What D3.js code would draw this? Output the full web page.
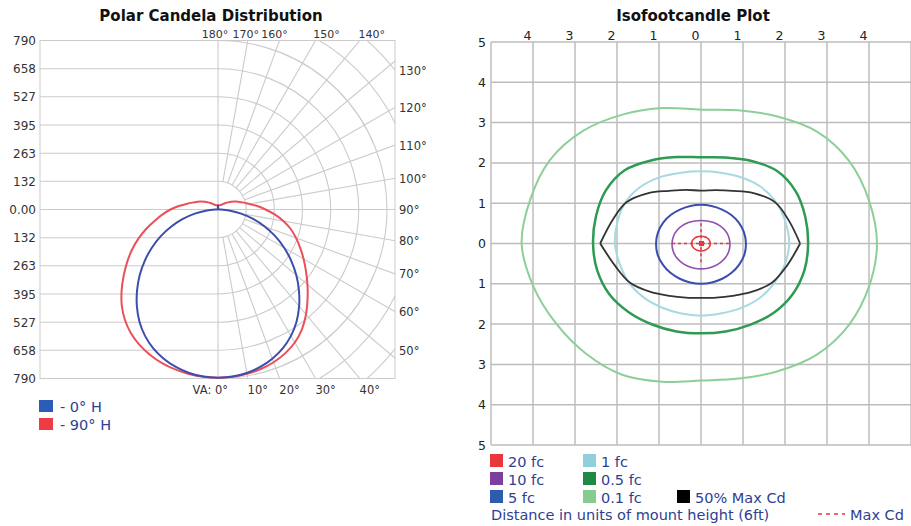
<!DOCTYPE html>
<html>
<head>
<meta charset="utf-8">
<title>Polar Candela Distribution / Isofootcandle Plot</title>
<script src="https://cdnjs.cloudflare.com/ajax/libs/d3/7.8.5/d3.min.js"></script>
<style>
  body { margin: 0; background: #fff; }
  text { font-family: "DejaVu Sans", Verdana, sans-serif; }
</style>
</head>
<body>
<script>
// ---- polar candela data (vertical angle from nadir, candela) ----
const vAngles = [0,5,10,15,20,25,30,35,40,45,50,55,60,65,70,75,80,85,90,
                 95,100,105,110,115,120,125,130,135,140,145,150,155,160,165,170,175,180];
const cd0H   = [786,784,776,762,742,716,682,640,590,535,478,418,357,295,232,170,110,52,12,
                4,3,3,3,3,3,3,3,3,3,3,3,3,3,3,4,8,22];
const cd90H  = [786,785,781,774,764,750,732,708,676,636,588,538,490,443,395,347,300,260,222,
                184,150,124,104,88,72,58,47,38,32,27,24,22,21,20,20,20,20];
const cd270H = [786,785,780,772,760,742,718,684,640,592,546,502,462,424,388,352,310,266,222,
                184,150,124,104,88,72,58,47,38,32,27,24,22,21,20,20,20,20];
const cdTicks = [132,263,395,527,658,790];
const ringLevels = [132,263,395,527,658,790,921,1053];
const rightDeg = [50,60,70,80,90,100,110,120,130];
const topDeg = [140,150,160,170,180];
const bottomDeg = [0,10,20,30,40];

// ---- isofootcandle data (radius in mount heights at each direction) ----
const phi = [0,15,30,45,60,75,90,105,120,135,150,165,180,195,210,225,240,255,270,285,300,315,330,345];
const fc01 = [4.19,4.14,4.08,3.92,3.64,3.42,3.32,3.48,3.70,3.96,4.15,4.21,4.27,4.13,3.98,3.87,3.76,3.55,3.40,3.47,3.66,3.90,4.06,4.14];
const fc05 = [2.55,2.57,2.60,2.55,2.37,2.21,2.14,2.22,2.38,2.57,2.62,2.59,2.57,2.56,2.52,2.42,2.32,2.26,2.23,2.26,2.33,2.44,2.52,2.55];
const fc1  = [2.10,2.08,2.06,2.00,1.90,1.82,1.79,1.82,1.91,2.01,2.07,2.06,2.05,2.00,1.97,1.91,1.84,1.80,1.79,1.80,1.86,1.94,2.00,2.06];
const fc5  = [1.07,1.06,1.04,1.01,0.98,0.965,0.96,0.965,0.98,1.01,1.04,1.06,1.07,1.07,1.05,1.03,1.01,1.00,1.00,1.00,1.01,1.03,1.05,1.07];
const fc10 = [0.69,0.68,0.66,0.63,0.60,0.58,0.57,0.58,0.60,0.63,0.66,0.68,0.69,0.69,0.68,0.66,0.645,0.635,0.63,0.635,0.645,0.66,0.68,0.69];
const fc20 = [0.22,0.22,0.21,0.20,0.19,0.18,0.18,0.18,0.19,0.20,0.21,0.22,0.22,0.22,0.21,0.20,0.19,0.185,0.185,0.185,0.19,0.20,0.21,0.22];
const halfMaxCd = [2.36,2.17,2.04,1.77,1.51,1.37,1.31,1.38,1.51,1.77,2.05,2.19,2.40,2.12,1.95,1.70,1.50,1.39,1.35,1.39,1.50,1.70,1.95,2.12];
const maxCdX = [-0.69, 0.69];
const maxCdY = [-0.5, 0.5];
const gridTicks = [-5,-4,-3,-2,-1,0,1,2,3,4,5];
const topTicks = [-4,-3,-2,-1,0,1,2,3,4];

const W = 911, H = 526;
const svg = d3.select("body").append("svg").attr("width", W).attr("height", H);
const rad = Math.PI / 180;

// ================= Polar Candela Distribution =================
const cx = 218, cy = 209.5, R = 169;
const box = { x0: 40, x1: 395, y0: cy - R, y1: cy + R };
const r = d3.scaleLinear().domain([0, 790]).range([0, R]);
const gridCol = "#cbcbcb";

svg.append("defs").append("clipPath").attr("id", "pclip")
  .append("rect").attr("x", box.x0).attr("y", box.y0)
  .attr("width", box.x1 - box.x0).attr("height", box.y1 - box.y0);

const pg = svg.append("g");
const grid = pg.append("g").attr("clip-path", "url(#pclip)")
  .attr("stroke", gridCol).attr("fill", "none").attr("stroke-width", 1.1);

// left half: horizontal lines
cdTicks.forEach(v => {
  [cy - r(v), cy + r(v)].forEach(y => {
    grid.append("line").attr("x1", box.x0).attr("x2", cx).attr("y1", y).attr("y2", y);
  });
});
grid.append("line").attr("x1", box.x0).attr("x2", box.x1).attr("y1", cy).attr("y2", cy);
grid.append("line").attr("x1", cx).attr("x2", cx).attr("y1", box.y0).attr("y2", box.y1);

// right half: rings
ringLevels.forEach(v => {
  const p = d3.path();
  p.arc(cx, cy, r(v), -Math.PI / 2, Math.PI / 2);
  grid.append("path").attr("d", p.toString());
});
// radial lines every 10 degrees
d3.range(10, 180, 10).forEach(a => {
  const r0 = r(cdTicks[0]), r1 = 400;
  grid.append("line")
    .attr("x1", cx + r0 * Math.sin(a * rad)).attr("y1", cy + r0 * Math.cos(a * rad))
    .attr("x2", cx + r1 * Math.sin(a * rad)).attr("y2", cy + r1 * Math.cos(a * rad));
});
pg.append("rect").attr("x", box.x0).attr("y", box.y0)
  .attr("width", box.x1 - box.x0).attr("height", box.y1 - box.y0)
  .attr("fill", "none").attr("stroke", gridCol);

// value labels on the left
const leftLab = pg.append("g").attr("font-size", 12).attr("fill", "#333").attr("text-anchor", "end");
[...cdTicks].reverse().forEach(v => leftLab.append("text").attr("x", 36).attr("y", cy - r(v) + 4.5).text(v));
leftLab.append("text").attr("x", 36).attr("y", cy + 4.5).text("0.00");
cdTicks.forEach(v => leftLab.append("text").attr("x", 36).attr("y", cy + r(v) + 4.5).text(v));

// angle labels
const angLab = pg.append("g").attr("font-size", 11.5).attr("fill", "#333");
rightDeg.forEach(a => {
  const dx = box.x1 - cx;
  let y = cy + dx * Math.cos(a * rad) / Math.sin(a * rad);
  y = Math.max(70, Math.min(350, y));
  angLab.append("text").attr("x", box.x1 + 4).attr("y", y + 4.5).text(a + "°");
});
const topNudge = { 140: 12, 150: 11, 160: -5, 170: -2, 180: -3 };
topDeg.forEach(a => {
  const dy = box.y0 - cy;
  const x = cx + dy * Math.tan(a * rad) + topNudge[a];
  angLab.append("text").attr("x", x).attr("y", box.y0 - 3).attr("text-anchor", "middle")
    .attr("font-size", 11).text(a + "°");
});
bottomDeg.forEach(a => {
  const dy = box.y1 - cy;
  const x = cx + dy * Math.tan(a * rad) + 10;
  angLab.append("text").attr("x", x).attr("y", box.y1 + 15)
    .attr("text-anchor", a === 0 ? "end" : "middle")
    .text(a === 0 ? "VA: 0°" : a + "°");
});

// candela curves
const radial = d3.lineRadial()
  .angle(d => d[0]).radius(d => r(d[1]))
  .curve(d3.curveCatmullRom.alpha(0.5));
function polarPts(leftVals, rightVals) {
  const pts = [];
  for (let i = vAngles.length - 1; i >= 0; i--) pts.push([Math.PI + vAngles[i] * rad, leftVals[i]]);
  for (let i = 1; i < vAngles.length; i++) pts.push([Math.PI - vAngles[i] * rad, rightVals[i]]);
  return pts;
}
const curves = pg.append("g").attr("transform", `translate(${cx},${cy})`).attr("fill", "none");
curves.append("path").attr("d", radial(polarPts(cd90H, cd270H)))
  .attr("stroke", "#ec4f58").attr("stroke-width", 2);
curves.append("path").attr("d", radial(polarPts(cd0H, cd0H)))
  .attr("stroke", "#3d4dab").attr("stroke-width", 2);

pg.append("text").attr("x", 211).attr("y", 21).attr("text-anchor", "middle")
  .attr("font-size", 15).attr("font-weight", "bold").attr("fill", "#111")
  .text("Polar Candela Distribution");

const pLeg = pg.append("g").attr("font-size", 14.5).attr("fill", "#2e3f93");
[["- 0° H", "#2a5cb8"], ["- 90° H", "#ee3b45"]].forEach((d, i) => {
  pLeg.append("rect").attr("x", 39).attr("y", 400 + i * 18).attr("width", 14).attr("height", 12).attr("fill", d[1]);
  pLeg.append("text").attr("x", 60).attr("y", 412 + i * 18).text(d[0]);
});

// ================= Isofootcandle Plot =================
const xs = d3.scaleLinear().domain([-5, 5]).range([491, 911]);
const ys = d3.scaleLinear().domain([-5, 5]).range([445, 42]);
const ig = svg.append("g");
const igrid = ig.append("g").attr("stroke", "#bcbcbc").attr("stroke-width", 1.5);
gridTicks.forEach(t => {
  igrid.append("line").attr("x1", xs(t)).attr("x2", xs(t)).attr("y1", ys(5)).attr("y2", ys(-5));
  igrid.append("line").attr("x1", xs(-5)).attr("x2", xs(5)).attr("y1", ys(t)).attr("y2", ys(t));
});

const xAxis = ig.append("g").attr("transform", `translate(-6,${ys(5) - 2})`)
  .call(d3.axisTop(xs).tickValues(topTicks).tickFormat(d => Math.abs(d)).tickSize(0).tickPadding(0));
const yAxis = ig.append("g").attr("transform", `translate(${xs(-5) - 5},0)`)
  .call(d3.axisLeft(ys).tickValues(gridTicks).tickFormat(d => Math.abs(d)).tickSize(0).tickPadding(0));
[xAxis, yAxis].forEach(a => {
  a.select(".domain").remove();
  a.selectAll("text").attr("font-size", 12.5).attr("fill", "#222")
    .attr("font-family", "'DejaVu Sans', Verdana, sans-serif");
});

const cLine = d3.line().x(d => xs(d[0])).y(d => ys(d[1])).curve(d3.curveCatmullRomClosed.alpha(0.5));
const oLine = d3.line().x(d => xs(d[0])).y(d => ys(d[1])).curve(d3.curveCatmullRom.alpha(0.5));
const toXY = radii => radii.map((v, i) => [v * Math.cos(phi[i] * rad), v * Math.sin(phi[i] * rad)]);

const cont = ig.append("g").attr("fill", "none");
[[fc01, "#8ccf99", 2], [fc05, "#2e9a52", 2.5], [fc1, "#a6d9e2", 2]].forEach(c => {
  cont.append("path").attr("d", cLine(toXY(c[0]))).attr("stroke", c[1]).attr("stroke-width", c[2]);
});
// 50% max cd: two open halves so the tips stay pointed
const hm = toXY(halfMaxCd);
cont.append("path").attr("d", oLine(hm.slice(0, 13))).attr("stroke", "#333").attr("stroke-width", 1.8);
cont.append("path").attr("d", oLine(hm.slice(12).concat([hm[0]]))).attr("stroke", "#333").attr("stroke-width", 1.8);
[[fc5, "#3a4db0", 2], [fc10, "#9150b0", 1.6], [fc20, "#e8363c", 1.6]].forEach(c => {
  cont.append("path").attr("d", cLine(toXY(c[0]))).attr("stroke", c[1]).attr("stroke-width", c[2]);
});
cont.append("line").attr("x1", xs(maxCdX[0])).attr("x2", xs(maxCdX[1])).attr("y1", ys(0)).attr("y2", ys(0))
  .attr("stroke", "#e8363c").attr("stroke-width", 1.5).attr("stroke-dasharray", "3,3");
cont.append("line").attr("x1", xs(0)).attr("x2", xs(0)).attr("y1", ys(maxCdY[1])).attr("y2", ys(maxCdY[0]))
  .attr("stroke", "#e8363c").attr("stroke-width", 1.5).attr("stroke-dasharray", "3,3");
cont.append("rect").attr("x", xs(0) - 2).attr("y", ys(0) - 2.5).attr("width", 5).attr("height", 5).attr("fill", "#e8363c");

ig.append("text").attr("x", 693).attr("y", 21).attr("text-anchor", "middle")
  .attr("font-size", 15).attr("font-weight", "bold").attr("fill", "#111")
  .text("Isofootcandle Plot");

const legItems = [
  ["20 fc", "#e8383d", 0, 0], ["10 fc", "#7b3f9e", 0, 1], ["5 fc", "#2b5cad", 0, 2],
  ["1 fc", "#8fd0dc", 1, 0], ["0.5 fc", "#1e8a45", 1, 1], ["0.1 fc", "#86cc8e", 1, 2],
  ["50% Max Cd", "#000", 2, 2]
];
const legCols = [490, 583, 677], legRows = [454, 472, 490];
const iLeg = ig.append("g").attr("font-size", 14.5).attr("fill", "#2e3f93");
legItems.forEach(d => {
  iLeg.append("rect").attr("x", legCols[d[2]]).attr("y", legRows[d[3]]).attr("width", 13).attr("height", 13).attr("fill", d[1]);
  iLeg.append("text").attr("x", legCols[d[2]] + 18).attr("y", legRows[d[3]] + 12.5).text(d[0]);
});
iLeg.append("text").attr("x", 491).attr("y", 520).text("Distance in units of mount height (6ft)");
iLeg.append("line").attr("x1", 818).attr("x2", 845).attr("y1", 514).attr("y2", 514)
  .attr("stroke", "#e8363c").attr("stroke-width", 1.5).attr("stroke-dasharray", "4,4");
iLeg.append("text").attr("x", 850).attr("y", 520).text("Max Cd");
</script>
</body>
</html>
